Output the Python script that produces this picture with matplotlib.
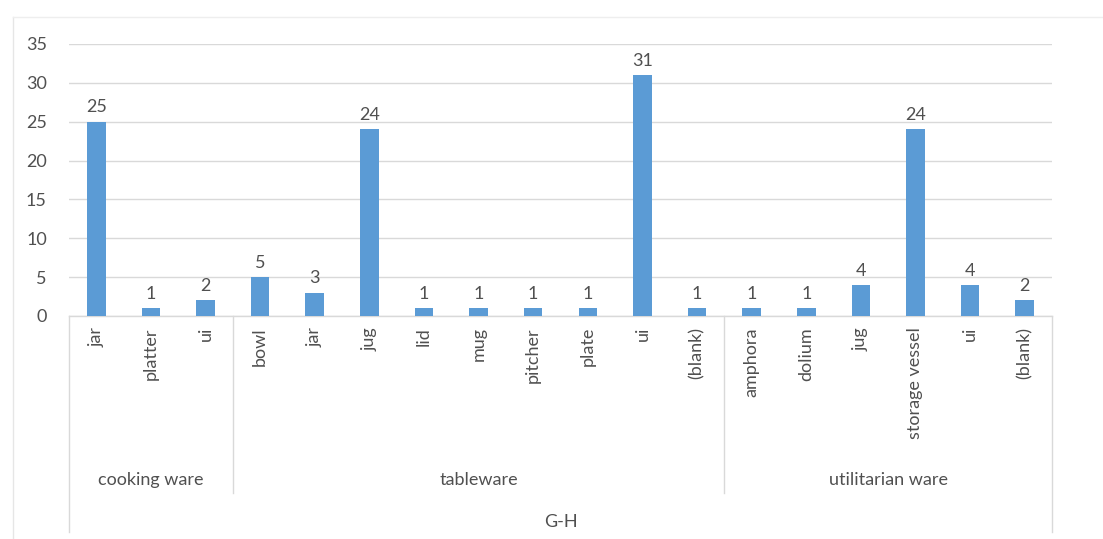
import matplotlib.pyplot as plt
from matplotlib.lines import Line2D

# data
groups = ["cooking ware", "tableware", "utilitarian ware"]
group_items = [
    ["jar", "platter", "ui"],
    ["bowl", "jar", "jug", "lid", "mug", "pitcher", "plate", "ui", "(blank)"],
    ["amphora", "dolium", "jug", "storage vessel", "ui", "(blank)"],
]
group_counts = [
    [25, 1, 2],
    [5, 3, 24, 1, 1, 1, 1, 31, 1],
    [1, 1, 4, 24, 4, 2],
]
outer_label = "G-H"

plt.rcParams["font.family"] = ["Lato", "DejaVu Sans"]
text_color = "#505050"
bar_color = "#5B9BD5"
line_color = "#D9D9D9"
fs = 13

labels = [lab for items in group_items for lab in items]
values = [v for counts in group_counts for v in counts]
x = list(range(len(values)))

fig = plt.figure(figsize=(11.03, 5.39), dpi=100)
ax = fig.add_axes([69 / 1103, 1 - 316 / 539, (1052 - 69) / 1103, (316 - 44) / 539])

ax.bar(x, values, width=0.34, color=bar_color, zorder=3)
for xi, v in zip(x, values):
    ax.text(xi, v + 0.8, str(v), ha="center", va="bottom", fontsize=fs, color=text_color)

ax.set_xlim(-0.5, len(values) - 0.5)
ax.set_ylim(0, 35)
ax.set_yticks(range(0, 36, 5))
ax.yaxis.grid(True, color=line_color, linewidth=1, zorder=0)
for s in ax.spines.values():
    s.set_visible(False)
ax.tick_params(axis="y", length=0, labelsize=fs, labelcolor=text_color, pad=16)
ax.set_xticks(x)
ax.set_xticklabels(labels, rotation=90, fontsize=fs, color=text_color, va="top")
ax.tick_params(axis="x", length=0, pad=8)

# category axis lines
tr = ax.get_xaxis_transform()
ax.plot([-0.5, len(values) - 0.5], [0, 0], color=line_color, lw=1, transform=tr, clip_on=False)
ax.plot([-0.5, -0.5], [0, -0.794], color=line_color, lw=1, transform=tr, clip_on=False)
ax.plot([len(values) - 0.5] * 2, [0, -0.794], color=line_color, lw=1, transform=tr, clip_on=False)

start = 0
for name, items in zip(groups, group_items):
    end = start + len(items)
    if end < len(values):
        ax.plot([end - 0.5] * 2, [0, -0.651], color=line_color, lw=1, transform=tr, clip_on=False)
    ax.text((start + end - 1) / 2, -0.603, name, ha="center", va="center",
            fontsize=fs, color=text_color, transform=tr)
    start = end

ax.text((len(values) - 1) / 2, -0.757, outer_label, ha="center", va="center",
        fontsize=fs, color=text_color, transform=tr)

# faint chart frame
fig.add_artist(Line2D([13 / 1103, 13 / 1103], [1 - 17 / 539, 0], color="#E6E6E6", lw=1))
fig.add_artist(Line2D([13 / 1103, 1], [1 - 17 / 539, 1 - 17 / 539], color="#EEEEEE", lw=1))

fig.savefig("out.png", dpi=100)
